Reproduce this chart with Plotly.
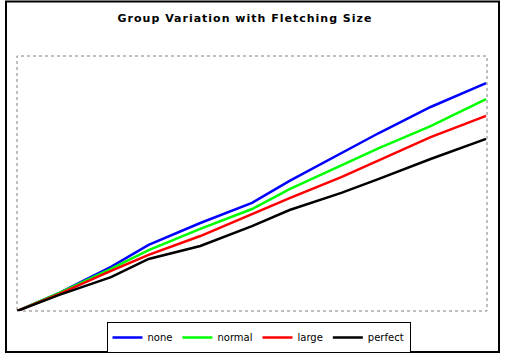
import plotly.graph_objects as go

# x positions (arbitrary distance units across the chart)
x_vals = [0, 9, 20, 28, 39, 50, 58, 69, 77, 88, 99.8]

none_vals = [0, 7.1, 17.3, 25.9, 34.5, 42.4, 51.0, 62.0, 69.8, 80.0, 89.4]
normal_vals = [0, 7.1, 16.5, 23.9, 32.2, 40.0, 47.8, 57.3, 63.9, 72.5, 83.1]
large_vals = [0, 6.7, 15.7, 22.0, 29.4, 38.0, 44.3, 52.5, 59.2, 68.2, 76.5]
perfect_vals = [0, 6.3, 13.3, 20.4, 25.5, 33.3, 39.6, 46.3, 51.8, 59.6, 67.5]

series_names = ["none", "normal", "large", "perfect"]
series_vals = [none_vals, normal_vals, large_vals, perfect_vals]
series_colors = ["#0000FF", "#00FF00", "#FF0000", "#000000"]

fig = go.Figure()
for name, vals, col in zip(series_names, series_vals, series_colors):
    fig.add_trace(go.Scatter(x=x_vals, y=vals, mode="lines", name=name,
                             line=dict(color=col, width=2.5)))

W, H = 505, 358
L, R, T, B = 17, 487, 56, 311

def px_x(p):
    return (p - L) / (R - L)

def px_y(p):
    return (B - p) / (B - T)

fig.update_layout(
    width=W, height=H,
    margin=dict(l=L, r=W - R, t=T, b=H - B, autoexpand=False),
    paper_bgcolor="white", plot_bgcolor="white",
    title=dict(text="<b>Group Variation with Fletching Size</b>",
               x=px_x(245), xanchor="center", xref="paper",
               y=1 - 18 / H, yanchor="middle",
               font=dict(family="DejaVu Sans", size=11, color="black")),
    xaxis=dict(range=[0, 100], showgrid=False, zeroline=False,
               showticklabels=False, ticks="", showline=False),
    yaxis=dict(range=[0, 100], showgrid=False, zeroline=False,
               showticklabels=False, ticks="", showline=False),
    legend=dict(orientation="h", x=px_x(258.5), xanchor="center",
                y=px_y(322), yanchor="top",
                bordercolor="black", borderwidth=1, bgcolor="white",
                font=dict(family="DejaVu Sans", size=10, color="black"),
                itemwidth=30, tracegroupgap=0),
    showlegend=True,
    shapes=[
        dict(type="rect", xref="paper", yref="paper", x0=0, x1=1, y0=0, y1=1,
             line=dict(color="#808080", width=1, dash="dot"), layer="below"),
        dict(type="rect", xref="paper", yref="paper",
             x0=px_x(6), x1=px_x(499), y0=px_y(352), y1=px_y(1.5),
             line=dict(color="black", width=2)),
    ],
)

post = """
document.body.style.margin='0';
document.body.style.padding='0';
document.querySelectorAll('.gtitle').forEach(function(e){e.style.letterSpacing='1px';});
"""

fig.write_html("out.html", post_script=post, config={"displayModeBar": False})
